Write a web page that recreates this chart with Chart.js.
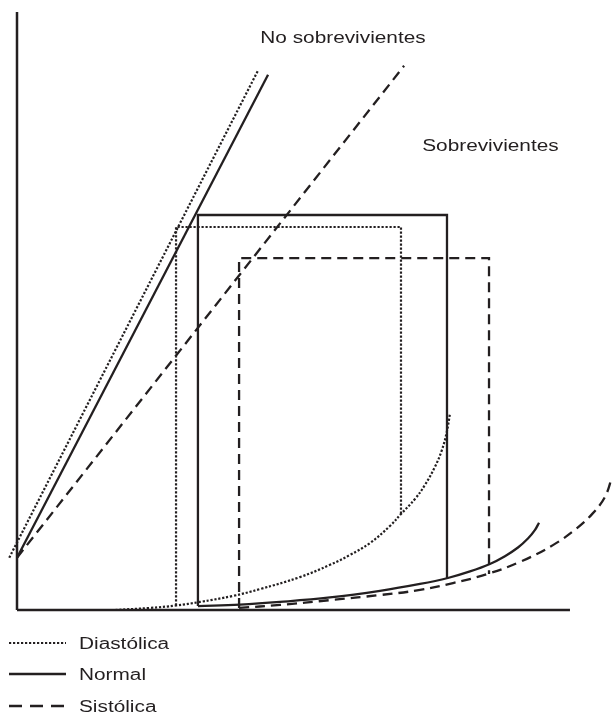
<!DOCTYPE html>
<html>
<head>
<meta charset="utf-8">
<script src="https://cdn.jsdelivr.net/npm/chart.js@4.4.0/dist/chart.umd.min.js"></script>
<style>
  html, body { margin: 0; padding: 0; background: #ffffff; }
  #wrap { width: 612px; height: 713px; position: relative; }
</style>
</head>
<body>
<div id="wrap"><canvas id="pv" width="612" height="713"></canvas></div>
<script>
// Pressure–volume diagram: volume (mL) on x, pressure (mmHg) on y.
const seriesLabels = ['Diastólica', 'Normal', 'Sistólica'];
const regionLabels = ['No sobrevivientes', 'Sobrevivientes'];
// anchor (volume, pressure) of each region label
const regionLabelVol = [110, 183.2];
const regionLabelPres = [189.6, 153.5];

// Drawn axis extents and the scale range (the plot runs on past the axis end)
const axisVolMax = 250;
const axisPresMax = 200;
const scaleVolMax = 269;

// End-systolic pressure–volume relations
const espvrDiastolicVol = [-3.5, 109];
const espvrDiastolicPres = [17.5, 180.5];
const espvrNormalVol = [0, 113.5];
const espvrNormalPres = [17.5, 179];
const espvrSystolicVol = [0, 175];
const espvrSystolicPres = [17.5, 182];

// Pressure–volume loops (left side, top, right side)
const loopDiastolicVol = [71.9, 71.9, 173.6, 173.6];
const loopDiastolicPres = [1.5, 128.1, 128.1, 32.1];
const loopNormalVol = [81.8, 81.8, 194.4, 194.4];
const loopNormalPres = [1.3, 132.1, 132.1, 10.7];
const loopSystolicVol = [100.4, 100.4, 213.4, 213.4];
const loopSystolicPres = [0.7, 117.7, 117.7, 12.0];

// End-diastolic pressure–volume relations
const edpvrDiastolicVol = [44.3, 60.1, 71.9, 82.7, 97.6, 109.9, 127.9, 141.5, 150.5, 159.6, 168.6, 173.6, 179.9, 184.4, 188.9, 192.1, 194.3, 195.8];
const edpvrDiastolicPres = [0, 0.7, 1.5, 2.7, 4.7, 7.0, 11.0, 15.1, 18.4, 22.4, 28.1, 32.1, 37.1, 41.8, 47.8, 53.5, 59.5, 65.9];
const edpvrNormalVol = [81.8, 100.8, 118.9, 141.5, 164.1, 182.2, 194.8, 204.8, 213.8, 220.6, 226.5, 231.0, 234.2, 236.0];
const edpvrNormalPres = [1.3, 1.8, 2.7, 4.2, 6.4, 8.7, 10.7, 12.9, 15.4, 18.0, 20.9, 23.9, 26.8, 29.2];
const edpvrSystolicVol = [100.4, 118.9, 141.5, 164.1, 182.2, 197.1, 212.5, 227.4, 242.3, 253.2, 260.4, 265.8, 269.0, 271.7];
const edpvrSystolicPres = [0.7, 1.7, 3.3, 5.0, 6.7, 9.0, 12.0, 16.1, 21.7, 27.4, 32.4, 37.8, 44.5, 50.8];

const INK = '#231f20';
const lineStyles = [
  { dash: [2.2, 1.8], width: 2.2 }, // Diastólica
  { dash: [], width: 2.3 },         // Normal
  { dash: [10, 6], width: 2.3 }     // Sistólica
];
const legendDash = [[2.2, 1.8], [], [13, 8]];

const pts = (xs, ys) => xs.map((x, i) => ({ x: x, y: ys[i] }));

function lineSet(xs, ys, styleIdx, curved) {
  const s = lineStyles[styleIdx];
  return {
    data: pts(xs, ys),
    showLine: true,
    borderColor: INK,
    borderWidth: s.width,
    borderDash: s.dash,
    borderCapStyle: 'butt',
    borderJoinStyle: curved ? 'round' : 'miter',
    pointRadius: 0,
    pointHoverRadius: 0,
    tension: curved ? 0.4 : 0,
    cubicInterpolationMode: 'default',
    fill: false,
    clip: false
  };
}

const datasets = [
  // axes
  { data: pts([0, 0], [0, axisPresMax]), showLine: true, borderColor: INK, borderWidth: 2.5, pointRadius: 0, clip: false },
  { data: pts([0, axisVolMax], [0, 0]), showLine: true, borderColor: INK, borderWidth: 2.5, pointRadius: 0, clip: false },
  lineSet(espvrDiastolicVol, espvrDiastolicPres, 0, false),
  lineSet(espvrNormalVol, espvrNormalPres, 1, false),
  lineSet(espvrSystolicVol, espvrSystolicPres, 2, false),
  lineSet(loopDiastolicVol, loopDiastolicPres, 0, false),
  lineSet(loopNormalVol, loopNormalPres, 1, false),
  lineSet(loopSystolicVol, loopSystolicPres, 2, false),
  lineSet(edpvrDiastolicVol, edpvrDiastolicPres, 0, true),
  lineSet(edpvrNormalVol, edpvrNormalPres, 1, true),
  lineSet(edpvrSystolicVol, edpvrSystolicPres, 2, true)
];

const FONT = '16px "Liberation Sans", Arial, Helvetica, sans-serif';
const STRETCH = 1.3;

function wideText(ctx, text, x, y) {
  ctx.save();
  ctx.translate(x, y);
  ctx.scale(STRETCH, 1);
  ctx.fillText(text, 0, 0);
  ctx.restore();
}

const annotations = {
  id: 'annotations',
  afterDraw(chart) {
    const ctx = chart.ctx;
    const xs = chart.scales.x, ys = chart.scales.y;
    ctx.save();
    ctx.fillStyle = INK;
    ctx.font = FONT;
    ctx.textBaseline = 'alphabetic';
    ctx.textAlign = 'left';
    regionLabels.forEach((t, i) => {
      wideText(ctx, t, xs.getPixelForValue(regionLabelVol[i]), ys.getPixelForValue(regionLabelPres[i]));
    });

    // legend below the plot
    const lineY = [643, 674, 706];
    seriesLabels.forEach((t, i) => {
      ctx.save();
      ctx.strokeStyle = INK;
      ctx.lineWidth = lineStyles[i].width;
      ctx.setLineDash(legendDash[i]);
      ctx.beginPath();
      ctx.moveTo(9, lineY[i]);
      ctx.lineTo(66, lineY[i]);
      ctx.stroke();
      ctx.restore();
      wideText(ctx, t, 79, lineY[i] + 6);
    });
    ctx.restore();
  }
};

new Chart(document.getElementById('pv'), {
  type: 'scatter',
  data: { datasets: datasets },
  options: {
    responsive: false,
    animation: false,
    devicePixelRatio: 1,
    layout: { padding: { left: 17, right: 0, top: 12, bottom: 103 } },
    scales: {
      x: { type: 'linear', min: 0, max: scaleVolMax, display: false },
      y: { type: 'linear', min: 0, max: axisPresMax, display: false }
    },
    plugins: { legend: { display: false }, tooltip: { enabled: false } },
    events: []
  },
  plugins: [annotations]
});
</script>
</body>
</html>
